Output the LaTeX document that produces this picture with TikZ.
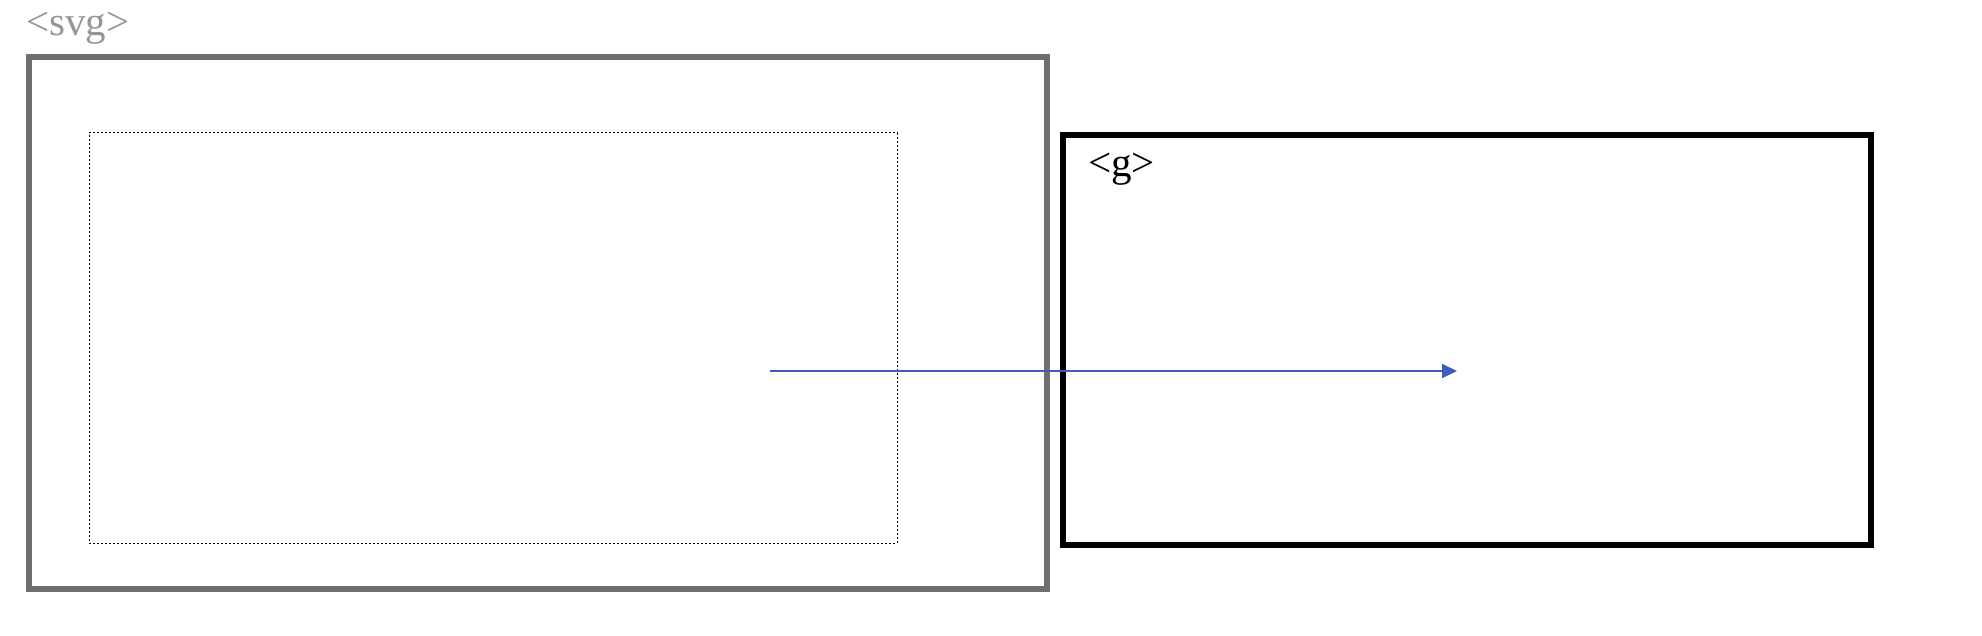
\documentclass[tikz,border=0pt]{standalone}
\usepackage{fontspec}
\setmainfont{Liberation Serif}
\usetikzlibrary{arrows.meta}
\definecolor{framegray}{RGB}{111,111,111}
\definecolor{labelgray}{RGB}{150,150,150}
\definecolor{arrowblue}{RGB}{60,92,190}
\begin{document}
\begin{tikzpicture}[x=0.5pt, y=-0.5pt,
    every node/.style={inner sep=0pt, outer sep=0pt},
    tag/.style={anchor=base west, font=\fontsize{20.5pt}{24pt}\selectfont},
    box/.style={draw, rectangle, minimum width=#1}]
    \useasboundingbox (0,0) rectangle (1982,636);
    \node[box=509pt, minimum height=266pt, draw=framegray, line width=3pt] (svgbox) at (538,323) {};
    \node[box=404pt, minimum height=205pt, line width=0.5pt, dash pattern=on 1pt off 1pt] (view) at (493,338) {};
    \node[box=404pt, minimum height=205pt, line width=3pt] (gbox) at (1467,340) {};
    \node[tag, text=labelgray] (svglabel) at (26,36) {<svg>};
    \node[tag] (glabel) at (1088,177) {<g>};
    \coordinate (src) at (770,371);
    \coordinate (dst) at (1457,371);
    \draw[-{Triangle[length=7.5pt, width=7pt]}, arrowblue, line width=1pt] (src) -- (dst);
\end{tikzpicture}
\end{document}
